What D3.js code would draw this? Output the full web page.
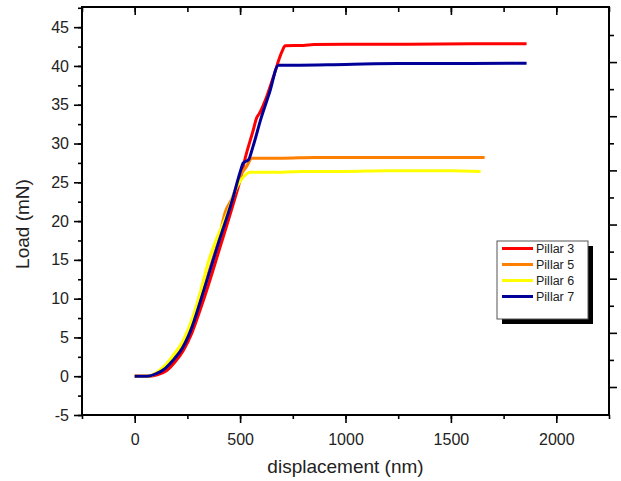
<!DOCTYPE html>
<html>
<head>
<meta charset="utf-8">
<script src="https://d3js.org/d3.v7.min.js"></script>
<style>
  body { margin: 0; background: #fff; }
  text { font-family: "Liberation Sans", Arial, sans-serif; fill: #222; }
</style>
</head>
<body>
<svg id="chart" width="621" height="481"></svg>
<script>
// series: displacement (nm) and load (mN)
var seriesNames = ["Pillar 3", "Pillar 5", "Pillar 6", "Pillar 7"];
var seriesColors = ["#ff0000", "#ff8000", "#ffff00", "#000099"];

var pillar3Disp = [0, 70, 110, 150, 190, 230, 270, 311, 350, 400, 463, 500, 524, 560, 580, 590, 620, 658, 698, 714, 800, 850, 1000, 1300, 1600, 1859];
var pillar3Load = [0, 0, 0.2, 0.7, 1.8, 3.3, 5.5, 8.6, 11.8, 16.2, 21.8, 25.3, 28.1, 31.5, 33.4, 33.8, 35.6, 38.6, 41.8, 42.6, 42.65, 42.75, 42.8, 42.8, 42.85, 42.85];

var pillar5Disp = [0, 60, 100, 140, 180, 226, 270, 311, 350, 400, 430, 463, 500, 530, 556, 700, 850, 1000, 1300, 1660];
var pillar5Load = [0, 0, 0.3, 1.0, 2.1, 3.8, 6.4, 9.8, 13.3, 17.8, 21.2, 23.0, 25.8, 27.0, 28.1, 28.1, 28.2, 28.2, 28.2, 28.2];

var pillar6Disp = [0, 60, 100, 140, 180, 226, 270, 311, 350, 390, 437, 485, 516, 548, 700, 800, 1000, 1200, 1500, 1641];
var pillar6Load = [0, 0, 0.4, 1.3, 2.6, 4.4, 7.2, 10.8, 14.8, 17.8, 20.8, 24.4, 25.7, 26.3, 26.3, 26.4, 26.4, 26.5, 26.5, 26.4];

var pillar7Disp = [0, 60, 100, 140, 180, 226, 270, 311, 350, 400, 463, 500, 515, 540, 560, 600, 640, 682, 750, 1000, 1250, 1500, 1859];
var pillar7Load = [0, 0, 0.3, 0.9, 2.0, 3.6, 6.2, 9.6, 13.0, 17.4, 22.7, 26.3, 27.5, 27.9, 29.5, 33.3, 36.6, 40.1, 40.1, 40.2, 40.3, 40.3, 40.35];

var xTicks = [0, 500, 1000, 1500, 2000];
var yTicks = [-5, 0, 5, 10, 15, 20, 25, 30, 35, 40, 45];

var allDisp = [pillar3Disp, pillar5Disp, pillar6Disp, pillar7Disp];
var allLoad = [pillar3Load, pillar5Load, pillar6Load, pillar7Load];

var margin = {left: 82, top: 7, right: 12, bottom: 66};
var width = 621 - margin.left - margin.right,
    height = 481 - margin.top - margin.bottom;

var svg = d3.select("#chart");
var g = svg.append("g").attr("transform", "translate(" + margin.left + "," + margin.top + ")");

var x = d3.scaleLinear().domain([-250, 2250]).range([0, width]);
var y = d3.scaleLinear().domain([-5, 47.6]).range([height, 0]);
// right-hand frame carries its own evenly spaced ticks
var yRight = d3.scaleLinear().domain([0, 13]).range([380, 28]);
var plain = function (d) { return String(d); };

// minor ticks
g.append("g").attr("transform", "translate(0," + height + ")")
  .call(d3.axisBottom(x).tickValues(d3.range(-250, 2251, 250)).tickSize(4).tickFormat(""));
g.append("g")
  .call(d3.axisLeft(y).tickValues(d3.range(-5, 47.6, 2.5)).tickSize(4).tickFormat(""));
g.append("g")
  .call(d3.axisTop(x).tickValues(d3.range(-250, 2251, 250)).tickSize(-5).tickFormat(""));
g.append("g").attr("transform", "translate(" + width + ",0)")
  .call(d3.axisRight(yRight).tickValues(d3.range(1, 14, 2)).tickSize(5).tickFormat(""));

// major ticks + labels
g.append("g").attr("transform", "translate(0," + height + ")")
  .call(d3.axisBottom(x).tickValues(xTicks).tickSize(8).tickPadding(11).tickFormat(plain));
g.append("g")
  .call(d3.axisLeft(y).tickValues(yTicks).tickSize(8).tickPadding(5).tickFormat(plain));
g.append("g")
  .call(d3.axisTop(x).tickValues(xTicks).tickSize(-8).tickFormat(""));
g.append("g").attr("transform", "translate(" + width + ",0)")
  .call(d3.axisRight(yRight).tickValues(d3.range(0, 14, 2)).tickSize(8).tickFormat(""));

g.selectAll(".domain").remove();
g.selectAll(".tick line").attr("stroke", "#000").attr("stroke-width", 1.6);
g.selectAll(".tick text").style("font-size", "16px").attr("fill", "#222");

// frame
g.append("rect").attr("width", width).attr("height", height)
  .attr("fill", "none").attr("stroke", "#000").attr("stroke-width", 2);

// lines
var line = d3.line().curve(d3.curveMonotoneX)
  .x(function (d) { return x(d[0]); }).y(function (d) { return y(d[1]); });
for (var i = 0; i < seriesNames.length; i++) {
  var pts = allDisp[i].map(function (d, j) { return [d, allLoad[i][j]]; });
  g.append("path").datum(pts)
    .attr("fill", "none")
    .attr("stroke", seriesColors[i])
    .attr("stroke-width", 3)
    .attr("stroke-linejoin", "round")
    .attr("d", line);
}

// axis titles
svg.append("text").attr("x", margin.left + x(1000)).attr("y", 473)
  .attr("text-anchor", "middle").style("font-size", "19px").text("displacement (nm)");
svg.append("text").attr("transform", "translate(29,224) rotate(-90)")
  .attr("text-anchor", "middle").style("font-size", "19px").text("Load (mN)");

// legend
var lg = svg.append("g").attr("transform", "translate(497,241)");
lg.append("rect").attr("x", 5).attr("y", 5).attr("width", 91).attr("height", 78).attr("fill", "#000");
lg.append("rect").attr("width", 91).attr("height", 78).attr("fill", "#fff").attr("stroke", "#555").attr("stroke-width", 1);
seriesNames.forEach(function (name, i) {
  var yy = 7.5 + i * 16;
  lg.append("line").attr("x1", 5).attr("x2", 36).attr("y1", yy).attr("y2", yy)
    .attr("stroke", seriesColors[i]).attr("stroke-width", 3);
  lg.append("text").attr("x", 39).attr("y", yy + 4.5).style("font-size", "12.5px").text(name);
});
</script>
</body>
</html>
